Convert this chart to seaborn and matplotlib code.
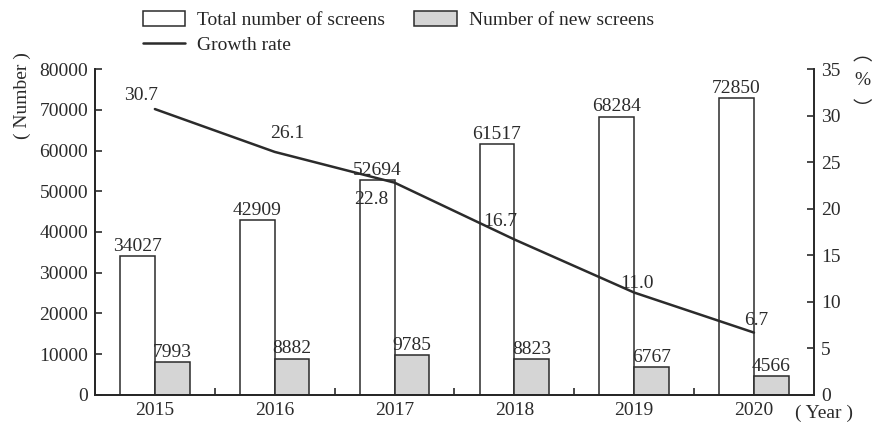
import numpy as np
import pandas as pd
import matplotlib
matplotlib.use("Agg")
import matplotlib.pyplot as plt
from matplotlib.patches import Patch
from matplotlib.lines import Line2D
import seaborn as sns

years = ["2015", "2016", "2017", "2018", "2019", "2020"]
total_screens = [34027, 42909, 52694, 61517, 68284, 72850]
new_screens = [7993, 8882, 9785, 8823, 6767, 4566]
growth_rate = [30.7, 26.1, 22.8, 16.7, 11.0, 6.7]

series_total = "Total number of screens"
series_new = "Number of new screens"
series_growth = "Growth rate"

FS = 14
sns.set_theme(style="ticks")
plt.rcParams["font.family"] = ["Liberation Serif", "Noto Sans CJK SC"]
plt.rcParams["font.size"] = FS
plt.rcParams["axes.linewidth"] = 1.3

INK = "#2b2b2b"
GRAY = "#d5d5d5"

df = pd.DataFrame({
    "year": years * 2,
    "value": total_screens + new_screens,
    "series": [series_total] * len(years) + [series_new] * len(years),
})

fig = plt.figure(figsize=(8.77, 4.26), dpi=100)
ax = fig.add_axes([0.1083, 0.0728, 0.8197, 0.7652])

sns.barplot(data=df, x="year", y="value", hue="series", order=years,
            hue_order=[series_total, series_new],
            palette={series_total: "white", series_new: GRAY},
            width=0.58, edgecolor=INK, linewidth=1.1, ax=ax, legend=False)

for cont, vals in zip(ax.containers, [total_screens, new_screens]):
    ax.bar_label(cont, labels=[str(v) for v in vals], padding=1,
                 fontsize=FS, color=INK)

ax.set_ylim(0, 80000)
ax.set_xlim(-0.5, len(years) - 0.5)
ax.set_yticks(np.arange(0, 80001, 10000))
ax.set_xlabel("")
ax.set_ylabel("")
ax.tick_params(axis="y", direction="in", length=5, width=1.2, colors=INK,
               labelcolor=INK, labelsize=FS, pad=5)
ax.tick_params(axis="x", which="major", length=0, pad=5, labelcolor=INK,
               labelsize=FS)
ax.set_xticks(np.arange(0.5, len(years) - 1, 1.0), minor=True)
ax.tick_params(axis="x", which="minor", direction="in", length=5, width=1.2,
               colors=INK)
for s in ["left", "bottom", "right"]:
    ax.spines[s].set_color(INK)
ax.spines["top"].set_visible(False)

ax2 = ax.twinx()
sns.lineplot(x=np.arange(len(years)), y=growth_rate, ax=ax2, color=INK,
             linewidth=1.8)
ax2.set_ylim(0, 35)
ax2.set_yticks(np.arange(0, 36, 5))
ax2.tick_params(axis="y", direction="in", length=5, width=1.2, colors=INK,
                labelcolor=INK, labelsize=FS, pad=5)
ax2.spines["top"].set_visible(False)
ax2.spines["right"].set_color(INK)
ax2.set_xlim(-0.5, len(years) - 0.5)

# growth-rate labels, nudged around the line in points
offsets = [(-10, 10), (9, 13), (-16.5, -12), (-10, 13), (2, 6.5), (2, 9)]
for i, (v, off) in enumerate(zip(growth_rate, offsets)):
    ax2.annotate(f"{v:.1f}", (i, v), xytext=off, textcoords="offset points",
                 ha="center", va="center", fontsize=FS, color=INK)

fig.text(0.025, 0.775, "( Number )", rotation=90, ha="center", va="center",
         fontsize=FS, color=INK)
fig.text(0.94, 0.03, "( Year )", ha="center", va="center",
         fontsize=FS, color=INK)
# vertical "(%)" beside the right axis, using vertical-form brackets
fig.text(0.983, 0.871, "\ufe35", ha="center", va="center",
         fontsize=FS, color=INK, family=["Noto Sans CJK SC"])
fig.text(0.983, 0.81, "%", ha="center", va="center",
         fontsize=FS, color=INK)
fig.text(0.983, 0.744, "\ufe36", ha="center", va="center",
         fontsize=FS, color=INK, family=["Noto Sans CJK SC"])

handles = [
    Patch(facecolor="white", edgecolor=INK, linewidth=1.1, label=series_total),
    Line2D([], [], color=INK, linewidth=1.8, label=series_growth),
    Patch(facecolor=GRAY, edgecolor=INK, linewidth=1.1, label=series_new),
]
fig.legend(handles=handles, ncol=2, loc="upper left",
           bbox_to_anchor=(0.147, 1.007), frameon=False, fontsize=FS,
           handlelength=2.2, handleheight=0.8, handletextpad=0.6,
           columnspacing=1.5, labelspacing=0.35, borderpad=0.2)

fig.savefig("out.png", dpi=100)
